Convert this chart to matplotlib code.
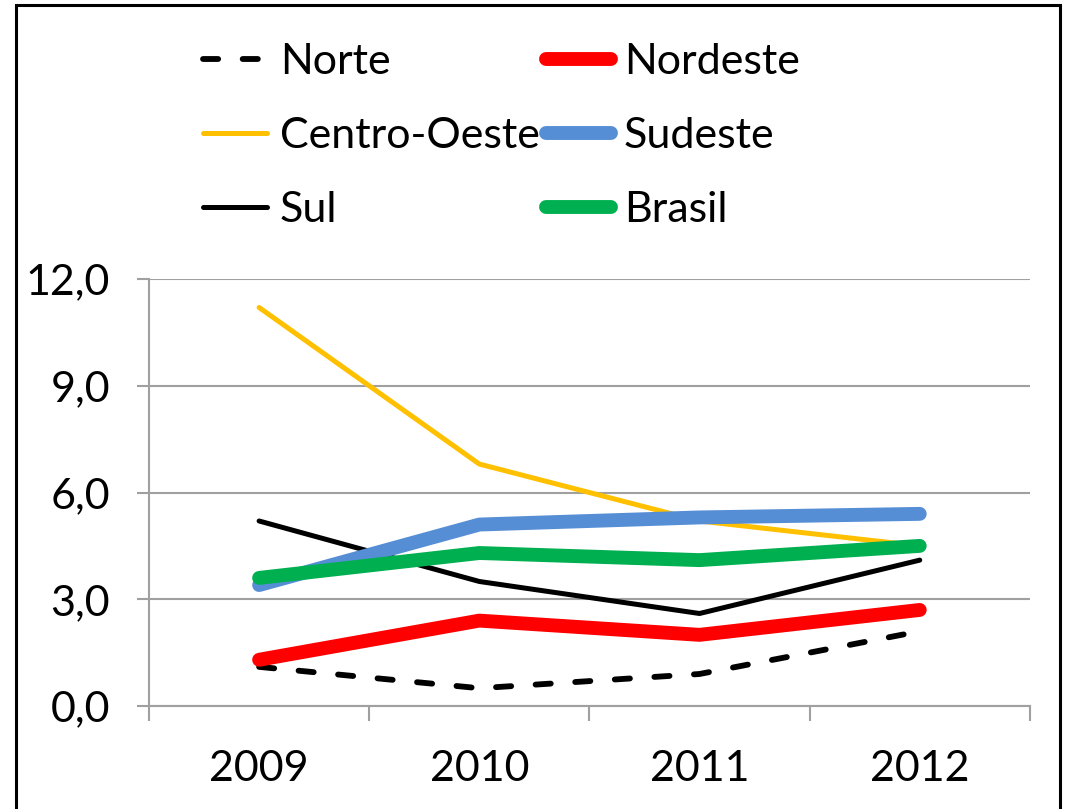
import matplotlib
matplotlib.use("Agg")
import matplotlib.pyplot as plt
from matplotlib.patches import Rectangle
from matplotlib.ticker import FixedLocator

plt.rcParams['font.family'] = ['Lato', 'DejaVu Sans']

years = ["2009", "2010", "2011", "2012"]
norte = [1.1, 0.5, 0.9, 2.1]
nordeste = [1.3, 2.4, 2.0, 2.7]
centro_oeste = [11.2, 6.8, 5.2, 4.5]
sudeste = [3.4, 5.1, 5.3, 5.4]
sul = [5.2, 3.5, 2.6, 4.1]
brasil = [3.6, 4.3, 4.1, 4.5]
yticks = [0, 3, 6, 9, 12]
ytick_labels = ["0,0", "3,0", "6,0", "9,0", "12,0"]

FS = 31
GRID = '#A0A0A0'

fig = plt.figure(figsize=(10.65, 8.09), dpi=100)
ax = fig.add_axes([0.1399, 0.1273, 0.8271, 0.5278])
x = list(range(len(years)))

l_norte, = ax.plot(x, norte, color='black', lw=4.2, ls=(0, (2.6, 4.2)),
                   dash_capstyle='round', solid_capstyle='round', label='Norte', zorder=3)
l_co, = ax.plot(x, centro_oeste, color='#FFC000', lw=3.6, label='Centro-Oeste',
                solid_capstyle='round', zorder=3)
l_sul, = ax.plot(x, sul, color='black', lw=3.6, label='Sul', solid_capstyle='round', zorder=3)
l_ne, = ax.plot(x, nordeste, color='#FF0000', lw=10, label='Nordeste',
                solid_capstyle='round', solid_joinstyle='round', zorder=3)
l_se, = ax.plot(x, sudeste, color='#558ED5', lw=10, label='Sudeste',
                solid_capstyle='round', solid_joinstyle='round', zorder=3)
l_br, = ax.plot(x, brasil, color='#00B050', lw=10, label='Brasil',
                solid_capstyle='round', solid_joinstyle='round', zorder=4)

ax.set_xlim(-0.5, 3.5)
ax.set_ylim(0, 12)
ax.set_yticks(yticks)
ax.set_yticklabels(ytick_labels)
ax.set_xticks(x)
ax.set_xticklabels(years)
ax.xaxis.set_minor_locator(FixedLocator([-0.5, 0.5, 1.5, 2.5, 3.5]))
ax.tick_params(axis='x', which='major', length=0, pad=32, labelsize=FS)
ax.tick_params(axis='x', which='minor', length=11, width=1.5, color=GRID, direction='out')
ax.tick_params(axis='y', which='major', length=9, width=1.5, color=GRID, pad=19, labelsize=FS)

ax.grid(axis='y', color=GRID, lw=1.5, zorder=0)
ax.set_axisbelow(True)
for s in ['top', 'right']:
    ax.spines[s].set_visible(False)
for s in ['left', 'bottom']:
    ax.spines[s].set_color(GRID)
    ax.spines[s].set_linewidth(1.5)

handles = [l_norte, l_co, l_sul, l_ne, l_se, l_br]
fig.legend(handles=handles, labels=[h.get_label() for h in handles], ncol=2,
           loc='upper left', bbox_to_anchor=(0.174, 0.968), frameon=False,
           fontsize=FS, handlelength=1.5, handletextpad=0.3, columnspacing=0.15,
           labelspacing=0.84, borderaxespad=0)

fig.patches.append(Rectangle((0.015, -0.02), 0.9803, 1.0138, transform=fig.transFigure,
                             fill=False, edgecolor='black', lw=2.2))

fig.savefig('out.png', dpi=100)
